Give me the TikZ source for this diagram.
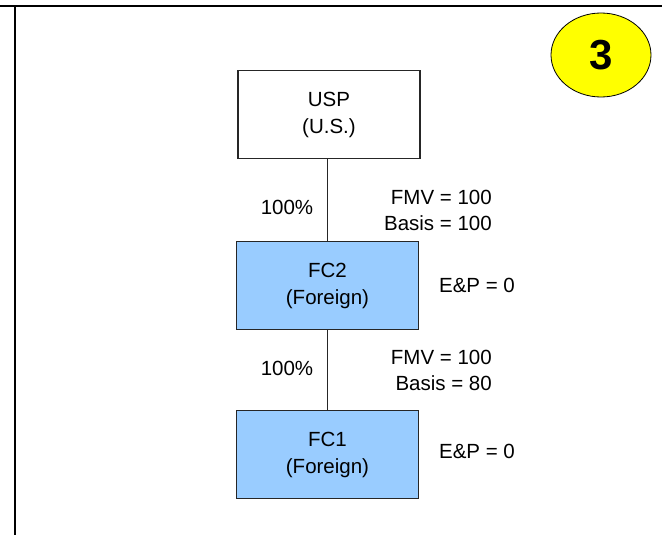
\documentclass[tikz,border=0pt]{standalone}
\usepackage{fontspec}
\setmainfont{Liberation Sans}
\usetikzlibrary{shapes.geometric}
\definecolor{boxblue}{HTML}{99CCFF}
\definecolor{badgeyellow}{HTML}{FFFF00}
\tikzset{
  entity/.style={draw=black!85, line width=1.2pt, minimum width=182pt, minimum height=88pt,
    inner sep=0pt, align=center, font=\fontsize{20.5}{27}\selectfont},
  foreign/.style={entity, fill=boxblue},
  lbl/.style={inner sep=0pt, font=\fontsize{20.5}{26}\selectfont},
  frameline/.style={line width=2pt, black},
  link/.style={line width=1.2pt, black!85},
  badge/.style={ellipse, draw=black, line width=0.8pt, fill=badgeyellow, minimum width=100pt,
    minimum height=84pt, inner sep=0pt, font=\fontsize{42}{42}\selectfont\bfseries}
}
\begin{document}
\begin{tikzpicture}[x=1pt,y=-1pt]
\useasboundingbox (0,0) rectangle (662,535);
\coordinate (tl) at (0,6);
\coordinate (tr) at (662,6);
\coordinate (lt) at (15,6);
\coordinate (lb) at (15,535);
\draw[frameline] (tl) -- (tr);
\draw[frameline] (lt) -- (lb);

\node[badge] (badge) at (601,55) {3};

\node[entity, fill=white] (usp) at (329,114.5) {USP\\(U.S.)};
\node[foreign] (fc2) at (327.5,285.5) {FC2\\(Foreign)};
\node[foreign] (fc1) at (327.5,454.5) {FC1\\(Foreign)};

\draw[link] (fc2.north) -- (fc2.north |- usp.south);
\draw[link] (fc1.north) -- (fc1.north |- fc2.south);

\node[lbl] (p1) at (287,207) {100\%};
\node[lbl] (p2) at (287,368) {100\%};
\node[lbl, align=right, anchor=east] (v1) at (492,210) {FMV = 100\\Basis = 100};
\node[lbl, align=right, anchor=east] (v2) at (492,370) {FMV = 100\\Basis = 80};
\node[lbl] (ep2) at (477,285) {E\&P = 0};
\node[lbl] (ep1) at (477,451) {E\&P = 0};
\end{tikzpicture}
\end{document}
